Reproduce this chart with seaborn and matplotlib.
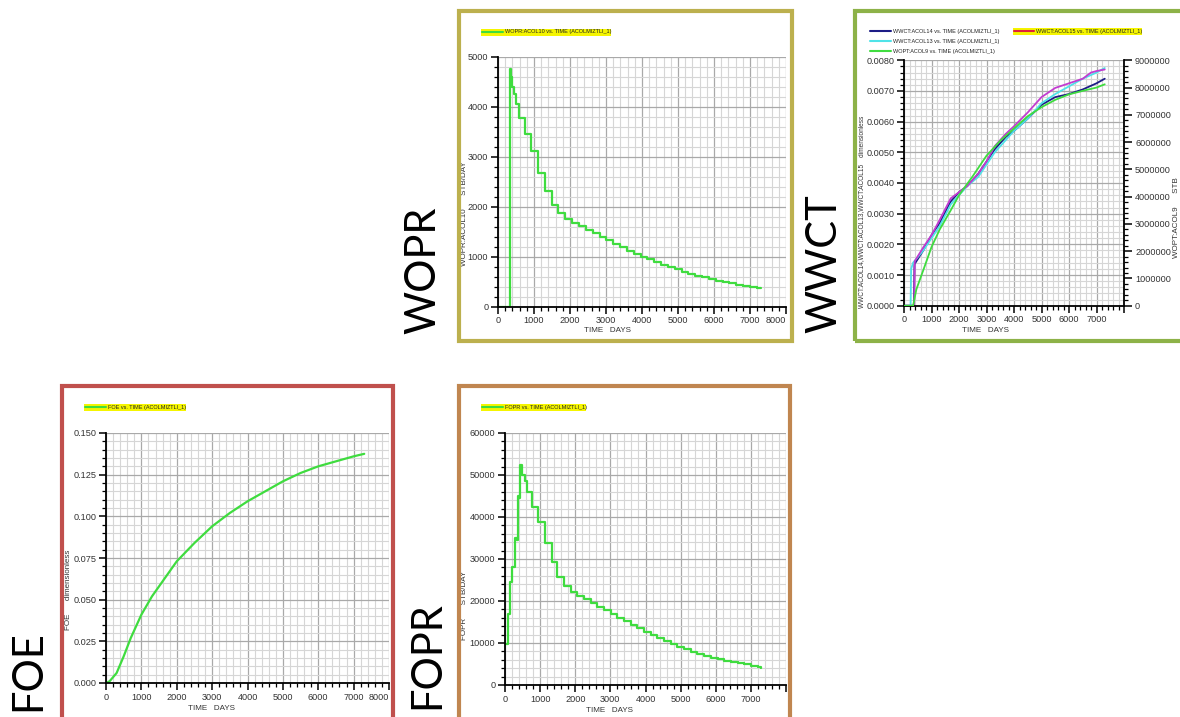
import numpy as np
import pandas as pd
import matplotlib
matplotlib.use("Agg")
import matplotlib.pyplot as plt
import seaborn as sns
from matplotlib.patches import Rectangle
from matplotlib.lines import Line2D
from matplotlib.ticker import MultipleLocator, FormatStrFormatter, FuncFormatter

# ---------------- data ----------------
wopr_time = [0, 330, 370, 400, 450, 500, 570, 750, 930, 1110, 1300, 1490, 1680, 1870, 2060,
             2250, 2440, 2630, 2820, 3010, 3200, 3390, 3580, 3770, 3960, 4150, 4340, 4530,
             4720, 4910, 5100, 5290, 5480, 5670, 5860, 6050, 6240, 6430, 6620, 6810, 7000,
             7190, 7300]
wopr_rate = [0, 4750, 4600, 4400, 4250, 4050, 3780, 3450, 3120, 2680, 2310, 2030, 1870, 1750,
             1670, 1610, 1540, 1470, 1400, 1330, 1260, 1190, 1120, 1060, 1000, 945, 890, 840,
             790, 745, 700, 660, 620, 585, 550, 520, 490, 465, 440, 415, 395, 380, 380]

wwct14_time = [0, 360, 380, 700, 1000, 1300, 1700, 2000, 2300, 2700, 3000, 3300, 3700, 4000,
               4500, 5000, 5500, 6000, 6500, 7000, 7300]
wwct14 = [0, 0, 0.00135, 0.0018, 0.0023, 0.0027, 0.0034, 0.0037, 0.0039, 0.0043, 0.0047,
          0.0051, 0.0055, 0.0057, 0.0061, 0.00655, 0.0068, 0.0069, 0.00705, 0.00725, 0.0074]

wwct15_time = [0, 370, 390, 700, 1000, 1300, 1700, 2000, 2300, 2700, 3000, 3300, 3700, 4000,
               4500, 5000, 5500, 6000, 6500, 6800, 7000, 7300]
wwct15 = [0, 0, 0.00145, 0.0019, 0.0023, 0.0028, 0.0035, 0.0037, 0.0039, 0.0043, 0.0047,
          0.0052, 0.0056, 0.00585, 0.0063, 0.0068, 0.0071, 0.00725, 0.0074, 0.0076, 0.00765,
          0.0077]

wwct13_time = [0, 240, 260, 330, 700, 1000, 1300, 1700, 2000, 2300, 2700, 3000, 3300, 3700,
               4000, 4500, 5000, 5500, 6000, 6500, 7000, 7300]
wwct13 = [0, 0, 0.0012, 0.0014, 0.0018, 0.0022, 0.0026, 0.0033, 0.0036, 0.0039, 0.0042, 0.0046,
          0.0050, 0.0054, 0.0057, 0.0061, 0.0066, 0.0069, 0.00715, 0.0074, 0.0076, 0.00775]

wopt9_time = [0, 330, 450, 700, 1000, 1300, 1700, 2000, 2500, 3000, 3500, 4000, 4500, 5000,
              5500, 6000, 6500, 7000, 7300]
wopt9 = [0, 0, 600000, 1300000, 2150000, 2800000, 3500000, 4050000, 4750000, 5500000, 6050000,
         6500000, 6950000, 7280000, 7550000, 7750000, 7880000, 8000000, 8120000]

foe_time = [0, 100, 300, 500, 700, 1000, 1300, 1500, 1700, 2000, 2500, 3000, 3500, 4000, 4500,
            5000, 5500, 6000, 6500, 7000, 7300]
foe = [0, 0.001, 0.006, 0.016, 0.027, 0.041, 0.052, 0.058, 0.064, 0.073, 0.084, 0.094, 0.102,
       0.109, 0.115, 0.121, 0.126, 0.130, 0.133, 0.136, 0.1375]

fopr_time = [0, 95, 143, 200, 280, 330, 360, 400, 430, 470, 560, 620, 780, 950, 1140, 1330,
             1490, 1680, 1870, 2060, 2250, 2440, 2630, 2820, 3010, 3200, 3390, 3580, 3770,
             3960, 4150, 4340, 4530, 4720, 4910, 5100, 5290, 5480, 5670, 5860, 6050, 6240,
             6430, 6620, 6810, 7000, 7190, 7300]
fopr = [9700, 17000, 24500, 28000, 35000, 34500, 45000, 44500, 52500, 50000, 48500, 46000,
        42300, 38700, 33700, 29300, 25800, 23600, 22200, 21200, 20400, 19500, 18600, 17800,
        16900, 16000, 15200, 14300, 13500, 12700, 11900, 11100, 10400, 9700, 9100, 8500, 7900,
        7400, 6900, 6500, 6100, 5800, 5500, 5200, 4900, 4600, 4300, 4100]

# ---------------- figure ----------------
W, H = 1180, 717
sns.set_theme(style="white")
plt.rcParams["font.family"] = ["Liberation Sans", "DejaVu Sans"]

fig = plt.figure(figsize=(W / 100, H / 100), dpi=100)
fig.patch.set_facecolor("white")

def fx(x):
    return x / W

def fy(y):
    return 1 - y / H

def add_ax(left, top, right, bottom):
    return fig.add_axes([fx(left), fy(bottom), (right - left) / W, (bottom - top) / H])

GREEN = "#3fdc3f"
TXT = "#333333"

def style_ax(ax, xlim, ylim, xmaj, xmin, ymaj, ymin, yfmt=None, xlabels_upto=8000):
    ax.set_facecolor("white")
    ax.set_xlim(*xlim)
    ax.set_ylim(*ylim)
    ax.xaxis.set_major_locator(MultipleLocator(xmaj))
    ax.xaxis.set_minor_locator(MultipleLocator(xmin))
    ax.yaxis.set_major_locator(MultipleLocator(ymaj))
    ax.yaxis.set_minor_locator(MultipleLocator(ymin))
    if yfmt:
        ax.yaxis.set_major_formatter(FormatStrFormatter(yfmt))
    ax.xaxis.set_major_formatter(
        FuncFormatter(lambda v, p: "%d" % v if v <= xlabels_upto + 1 else ""))
    ax.grid(which="major", color="#a9a9a9", lw=0.9)
    ax.grid(which="minor", color="#d6d6d6", lw=0.8)
    ax.set_axisbelow(True)
    for s in ["top", "right"]:
        ax.spines[s].set_visible(False)
    for s in ["left", "bottom"]:
        ax.spines[s].set_visible(True)
        ax.spines[s].set_color("black")
        ax.spines[s].set_linewidth(1.3)
    ax.tick_params(which="major", direction="out", length=5, width=1.1, color="black",
                   labelsize=6.6, labelcolor=TXT, left=True, bottom=True, pad=2)
    ax.tick_params(which="minor", direction="out", length=3, width=0.9, color="black",
                   left=True, bottom=True)
    ax.set_xlabel("")
    ax.set_ylabel("")

def last_xlabel_right(ax):
    fig.canvas.draw()
    labs = [t for t in ax.get_xticklabels() if t.get_text() == "8000"]
    for t in labs:
        t.set_horizontalalignment("right")

def border(x0, y0, x1, y1, color):
    fig.add_artist(Rectangle((fx(x0), fy(y1)), (x1 - x0) / W, (y1 - y0) / H,
                             transform=fig.transFigure, fill=False, edgecolor=color,
                             lw=3.0, clip_on=False, zorder=5))

def legend_entry(x0, y, text, color, box=None, line_len=21):
    if box is not None:
        fig.add_artist(Rectangle((fx(box[0]), fy(box[3])), (box[2] - box[0]) / W,
                                 (box[3] - box[1]) / H, transform=fig.transFigure,
                                 facecolor="#f5f500", edgecolor="none", zorder=2))
    fig.add_artist(Line2D([fx(x0), fx(x0 + line_len)], [fy(y), fy(y)], color=color, lw=1.5,
                          transform=fig.transFigure, zorder=3))
    fig.text(fx(x0 + line_len + 2), fy(y), text, fontsize=3.95, va="center", ha="left",
             color="#222222", zorder=4)

def small_text(x, y, s, rot=0, size=5.8):
    fig.text(fx(x), fy(y), s, fontsize=size, rotation=rot, ha="center", va="center",
             color=TXT)

def big_label(x, y, s):
    fig.text(fx(x), fy(y), s, fontsize=30, rotation=90, ha="center", va="center",
             color="black", family=["Lato", "DejaVu Sans"])

# ---------------- WOPR ----------------
ax1 = add_ax(498, 56.7, 786, 306.7)
sns.lineplot(x=wopr_time, y=wopr_rate, ax=ax1, color=GREEN, lw=1.6, drawstyle="steps-post",
             estimator=None)
style_ax(ax1, (0, 8000), (0, 5000), 1000, 200, 1000, 200)
border(458.5, 10.5, 791.5, 340.5, "#bcb04e")
legend_entry(482, 32, "WOPR:ACOL10 vs. TIME (ACOLMIZTLI_1)", GREEN, box=(481, 28.5, 611, 36))
small_text(465, 214, "WOPR:ACOL10      STB/DAY", rot=90)
small_text(607, 331, "TIME   DAYS")
big_label(423, 270, "WOPR")

# ---------------- WWCT ----------------
ax2 = add_ax(904, 60.3, 1124, 305.7)
sns.lineplot(x=wwct14_time, y=wwct14, ax=ax2, color="#1c1c86", lw=1.3, estimator=None)
sns.lineplot(x=wwct13_time, y=wwct13, ax=ax2, color="#4fe3e8", lw=1.3, estimator=None)
sns.lineplot(x=wwct15_time, y=wwct15, ax=ax2, color="#c23cd0", lw=1.3, estimator=None)
style_ax(ax2, (0, 8000), (0, 0.008), 1000, 200, 0.001, 0.0002, yfmt="%.4f", xlabels_upto=7000)
ax2b = ax2.twinx()
sns.lineplot(x=wopt9_time, y=wopt9, ax=ax2b, color=GREEN, lw=1.3, estimator=None)
ax2b.set_ylim(0, 9000000)
ax2b.yaxis.set_major_locator(MultipleLocator(1000000))
ax2b.yaxis.set_minor_locator(MultipleLocator(200000))
ax2b.yaxis.set_major_formatter(FormatStrFormatter("%d"))
ax2b.grid(False)
for s in ["top", "left", "bottom"]:
    ax2b.spines[s].set_visible(False)
ax2b.spines["right"].set_visible(True)
ax2b.spines["right"].set_color("black")
ax2b.spines["right"].set_linewidth(1.3)
ax2b.tick_params(axis="y", which="major", direction="out", length=6, width=1.1, color="black",
                 labelsize=6.6, labelcolor=TXT, right=True, pad=2)
ax2b.tick_params(axis="y", which="minor", direction="out", length=3, width=0.9, color="black",
                 right=True)
ax2b.set_ylabel("")
border(855, 10.5, 1190, 340.5, "#8db248")
legend_entry(870, 31, "WWCT:ACOL14 vs. TIME (ACOLMIZTLI_1)", "#1c1c86")
legend_entry(870, 41.3, "WWCT:ACOL13 vs. TIME (ACOLMIZTLI_1)", "#4fe3e8")
legend_entry(870, 51, "WOPT:ACOL9 vs. TIME (ACOLMIZTLI_1)", GREEN)
legend_entry(1014, 31, "WWCT:ACOL15 vs. TIME (ACOLMIZTLI_1)", "#e0203a",
             box=(1013, 27.5, 1142, 35), line_len=20)
small_text(862, 212, "WWCT:ACOL14,WWCT:ACOL13,WWCT:ACOL15    dimensionless", rot=90, size=4.7)
small_text(1176, 218, "WOPT:ACOL9      STB", rot=90)
small_text(985, 331, "TIME   DAYS")
big_label(824, 264, "WWCT")

# ---------------- FOE ----------------
ax3 = add_ax(106, 433, 389, 683)
sns.lineplot(x=foe_time, y=foe, ax=ax3, color=GREEN, lw=1.6, estimator=None)
style_ax(ax3, (0, 8000), (0, 0.15), 1000, 200, 0.025, 0.005, yfmt="%.3f")
border(61.5, 385.5, 392.5, 740, "#c0504d")
legend_entry(85, 407, "FOE vs. TIME (ACOLMIZTLI_1)", GREEN, box=(84, 403.5, 186, 411))
small_text(69, 590, "FOE      dimensionless", rot=90)
small_text(211, 708, "TIME   DAYS")
big_label(28, 671, "FOE")

# ---------------- FOPR ----------------
ax4 = add_ax(505, 433, 786, 685)
sns.lineplot(x=fopr_time, y=fopr, ax=ax4, color=GREEN, lw=1.6, drawstyle="steps-post",
             estimator=None)
style_ax(ax4, (0, 8000), (0, 60000), 1000, 200, 10000, 2000, xlabels_upto=7000)
border(458.5, 385.5, 789.5, 740, "#c08650")
legend_entry(482, 407, "FOPR vs. TIME (ACOLMIZTLI_1)", GREEN, box=(481, 403.5, 586, 411))
small_text(465, 605, "FOPR      STB/DAY", rot=90)
small_text(610, 711, "TIME   DAYS")
big_label(427, 655, "FOPR")

last_xlabel_right(ax1)
last_xlabel_right(ax3)

fig.savefig("out.png", dpi=100, facecolor="white")
